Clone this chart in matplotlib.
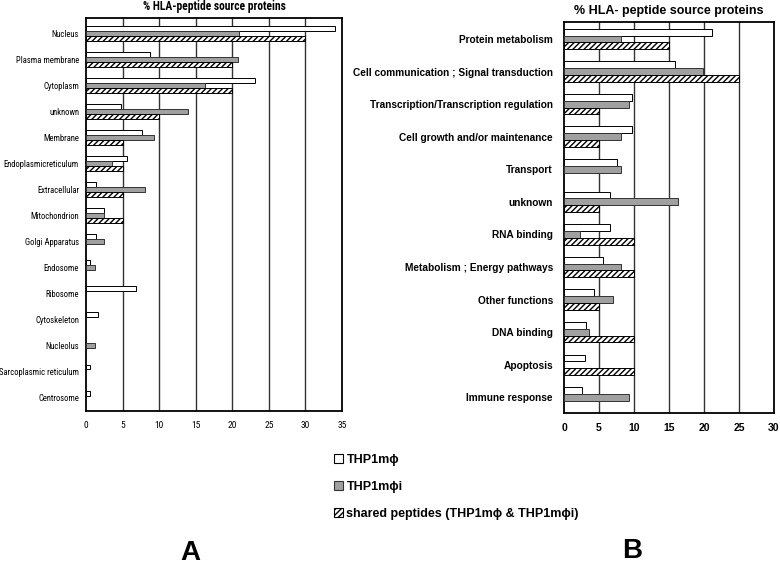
import matplotlib
matplotlib.use("Agg")
import matplotlib.pyplot as plt
from matplotlib.patches import Patch
from matplotlib import font_manager as fm
import numpy as np

# ---- data ----
left_categories = ["Nucleus", "Plasma membrane", "Cytoplasm", "unknown", "Membrane",
                   "Endoplasmicreticulum", "Extracellular", "Mitochondrion", "Golgi Apparatus",
                   "Endosome", "Ribosome", "Cytoskeleton", "Nucleolus",
                   "Sarcoplasmic reticulum", "Centrosome"]
left_thp1 = [34.1, 8.8, 23.1, 4.8, 7.7, 5.6, 1.4, 2.5, 1.4, 0.6, 6.8, 1.7, 0.0, 0.6, 0.6]
left_thp1i = [20.9, 20.8, 16.3, 14.0, 9.3, 3.5, 8.1, 2.4, 2.4, 1.2, 0.0, 0.0, 1.2, 0.0, 0.0]
left_shared = [30.0, 20.0, 20.0, 10.0, 5.0, 5.0, 5.0, 5.0, 0.0, 0.0, 0.0, 0.0, 0.0, 0.0, 0.0]
left_ticks = [0, 5, 10, 15, 20, 25, 30, 35]

right_categories = ["Protein metabolism", "Cell communication ; Signal transduction",
                    "Transcription/Transcription regulation", "Cell growth and/or maintenance",
                    "Transport", "unknown", "RNA binding", "Metabolism ; Energy pathways",
                    "Other functions", "DNA binding", "Apoptosis", "Immune response"]
right_thp1 = [21.1, 15.8, 9.7, 9.7, 7.5, 6.6, 6.6, 5.5, 4.3, 3.2, 3.0, 2.6]
right_thp1i = [8.1, 19.9, 9.3, 8.1, 8.1, 16.3, 2.3, 8.1, 7.0, 3.6, 0.0, 9.3]
right_shared = [15.0, 25.0, 5.0, 5.0, 0.0, 5.0, 10.0, 10.0, 5.0, 10.0, 10.0, 0.0]
right_ticks = [0, 5, 10, 15, 20, 25, 30]

series_labels = ["THP1m\u03d5", "THP1m\u03d5i", "shared peptides (THP1m\u03d5 & THP1m\u03d5i)"]

plt.rcParams['hatch.linewidth'] = 1.0
W, H = 780, 571
fig = plt.figure(figsize=(W / 100, H / 100), dpi=100)

sans = ['Liberation Sans', 'DejaVu Sans']
# look for a condensed face for the left panel
names = {f.name for f in fm.fontManager.ttflist}
cond = None
for cand in ['Liberation Sans Narrow', 'DejaVu Sans Condensed', 'Roboto Condensed',
             'Open Sans Condensed']:
    if cand in names:
        cond = cand
        break
if cond is None:
    for f in fm.fontManager.ttflist:
        if 'condensed' in str(f.stretch) or 'Condensed' in f.fname or 'Narrow' in f.fname:
            cond = f.name
            break
if cond is not None:
    narrow = [cond, 'Liberation Sans', 'DejaVu Sans']
    lsize = 6.2
else:
    narrow = sans
    lsize = 5.5

styles = [dict(facecolor='white', edgecolor='black', hatch=None),
          dict(facecolor='#a0a0a0', edgecolor='#333333', hatch=None),
          dict(facecolor='white', edgecolor='black', hatch='//////')]


def panel(rect, cats, vals, ticks, xmax, h, ylim, title, title_kw, label_kw, tick_kw, ypad):
    ax = fig.add_axes(rect)
    y = np.arange(len(cats))
    for k, (v, st) in enumerate(zip(vals, styles)):
        v = np.array(v)
        m = v > 0
        ax.barh(y[m] + (k - 1) * h, v[m], height=h, linewidth=0.7, zorder=3, **st)
    ax.set_xlim(0, xmax)
    ax.set_ylim(*ylim)
    ax.set_yticks(y)
    ax.set_yticklabels(cats, **label_kw)
    ax.set_xticks(ticks)
    ax.set_xticklabels([str(t) for t in ticks], **tick_kw)
    ax.tick_params(length=0)
    ax.tick_params(axis='y', pad=ypad)
    ax.tick_params(axis='x', pad=7)
    for t in ticks[1:-1]:
        ax.axvline(t, color='#333333', linewidth=1.0, zorder=1)
    for s in ax.spines.values():
        s.set_linewidth(1.3)
        s.set_color('black')
    ax.set_title(title, pad=6, **title_kw)
    return ax


axA = panel([86 / W, 1 - 411 / H, 256 / W, 393 / H], left_categories,
            [left_thp1, left_thp1i, left_shared], left_ticks, 35, 0.19, (14.5, -0.6),
            "% HLA-peptide source proteins",
            dict(fontsize=8.3, family=narrow, fontweight='bold'),
            dict(fontsize=lsize, family=narrow),
            dict(fontsize=6.8, family=narrow), 5)

axB = panel([564 / W, 1 - 413 / H, 210 / W, 391 / H], right_categories,
            [right_thp1, right_thp1i, right_shared], right_ticks, 30, 0.21, (11.48, -0.52),
            "% HLA- peptide source proteins",
            dict(fontsize=9, family=sans, fontweight='bold'),
            dict(fontsize=7.3, family=sans, fontweight='bold'),
            dict(fontsize=7.5, family=sans, fontweight='bold'), 8)

handles = [Patch(linewidth=0.8, **st) for st in styles]
fig.legend(handles, series_labels, loc='upper left', bbox_to_anchor=(334 / W, 1 - 454 / H),
           frameon=False, handlelength=0.7, handleheight=0.7, handletextpad=0.3,
           labelspacing=1.2, borderaxespad=0, borderpad=0,
           prop=dict(family=sans, weight='bold', size=9))

fig.text(190 / W, 1 - 553 / H, "A", fontsize=20, fontweight='bold', family=sans,
         ha='center', va='center')
fig.text(632 / W, 1 - 551 / H, "B", fontsize=20, fontweight='bold', family=sans,
         ha='center', va='center')

fig.savefig("out.png", dpi=100)
